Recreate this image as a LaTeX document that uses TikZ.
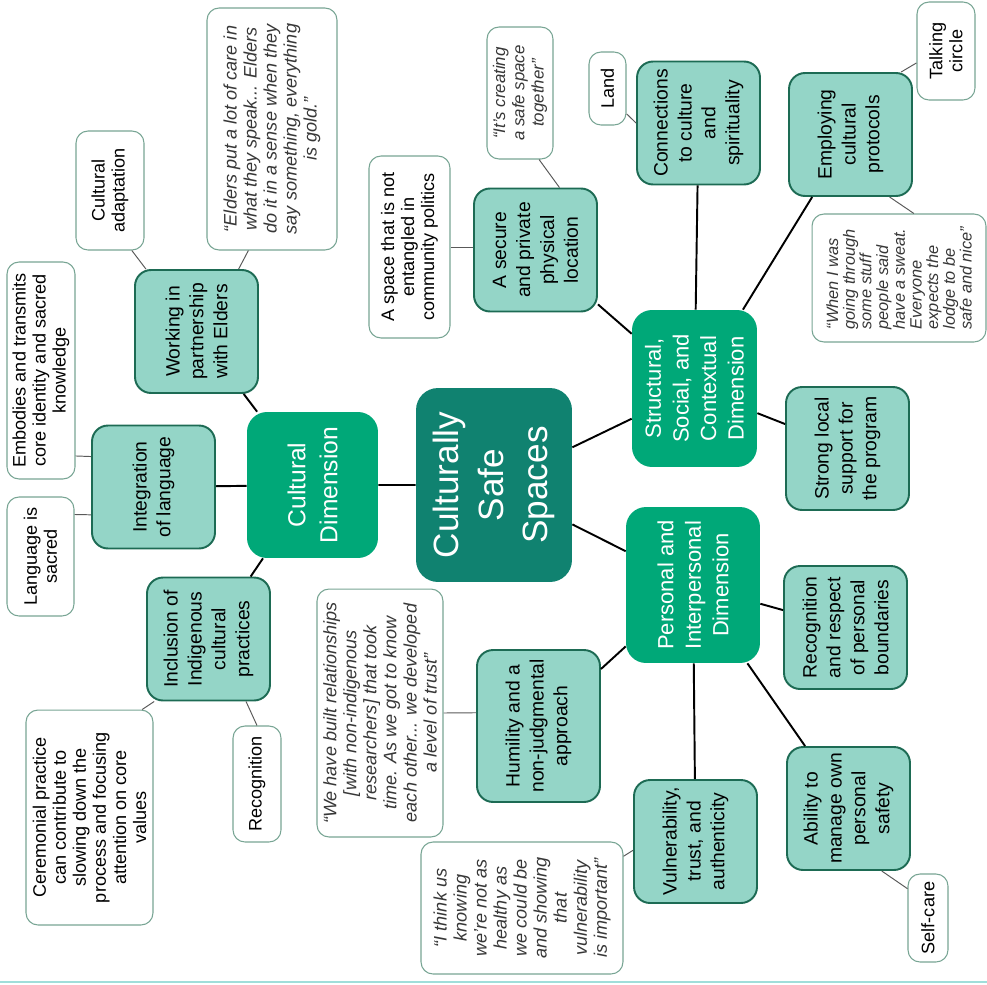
\documentclass[tikz,border=0pt]{standalone}
\usepackage{fontspec}
\setmainfont{Liberation Sans}
\definecolor{hubgreen}{RGB}{16,130,112}
\definecolor{dimgreen}{RGB}{0,168,120}
\definecolor{subfill}{RGB}{148,213,199}
\definecolor{subedge}{RGB}{29,107,84}
\definecolor{leafedge}{RGB}{120,165,148}
\definecolor{quotegray}{RGB}{55,55,55}
\definecolor{rulecyan}{RGB}{160,222,218}

\begin{document}
\begin{tikzpicture}[
    x=.02cm, y=-.02cm,
    every node/.style={rotate=90, align=center, inner sep=0pt},
    hubbox/.style={fill=hubgreen, text=white, rounded corners=.44cm,
        font=\fontsize{20}{25.5}\selectfont},
    dimbox/.style={fill=dimgreen, text=white, rounded corners=.4cm,
        font=\fontsize{12.5}{15.7}\selectfont},
    subbox/.style={fill=subfill, draw=subedge, line width=1.1pt,
        rounded corners=.32cm, font=\fontsize{11}{13.6}\selectfont,
        minimum width=2.46cm, minimum height=2.46cm},
    leafbox/.style={fill=white, draw=leafedge, line width=.6pt,
        rounded corners=.24cm, font=\fontsize{10.3}{11.4}\selectfont},
    quotebox/.style={leafbox, text=quotegray,
        font=\fontsize{10.3}{11.4}\selectfont\itshape},
    limb/.style={line width=1.1pt},
    twig/.style={line width=.55pt, black!65}]
    \useasboundingbox (0,0) rectangle (987,984);

    % Centre and the three dimensions.
    \node[hubbox, minimum width=3.88cm, minimum height=3.12cm] (hub)
        at (494,485) {Culturally\\Safe\\Spaces};
    \node[dimbox, font=\fontsize{14}{18.2}\selectfont,
        minimum width=2.92cm, minimum height=2.62cm] (cult)
        at (312.5,485) {Cultural\\Dimension};
    \node[dimbox, minimum width=3.14cm, minimum height=2.5cm] (struc)
        at (694.5,388.5) {Structural,\\Social, and\\Contextual\\Dimension};
    \node[dimbox, minimum width=3.12cm, minimum height=2.68cm] (pers)
        at (693,585) {Personal and\\Interpersonal\\Dimension};

    % Cultural branch.
    \node[subbox] (elders) at (196.5,331.5) {Working in\\partnership\\with Elders};
    \node[subbox] (lang) at (153.5,487) {Integration\\of language};
    \node[subbox] (incl) at (208.5,639) {Inclusion of\\Indigenous\\cultural\\practices};
    \node[leafbox, minimum width=2.38cm, minimum height=1.36cm] (adapt)
        at (110,190.5) {Cultural\\adaptation};
    \node[quotebox, minimum width=4.84cm, minimum height=2.6cm] (eldq)
        at (272,129) {“Elders put a lot of care in\\what they speak... Elders\\do it in a sense when they\\say something, everything\\is gold.”};
    \node[leafbox, minimum width=4.34cm, minimum height=1.36cm] (embod)
        at (41,370.5) {Embodies and transmits\\core identity and sacred\\knowledge};
    \node[leafbox, minimum width=2.38cm, minimum height=1.34cm] (sacred)
        at (40.5,556.5) {Language is\\sacred};
    \node[leafbox, minimum width=4.3cm, minimum height=2.54cm] (ceremo)
        at (89.5,817.5) {Ceremonial practice\\can contribute to\\slowing down the\\process and focusing\\attention on core\\values};
    \node[leafbox, minimum width=2.32cm, minimum height=.96cm] (recog)
        at (257,784) {Recognition};

    % Structural branch.
    \node[subbox] (secure) at (535.5,250) {A secure\\and private\\physical\\location};
    \node[subbox] (conn) at (698.5,123) {Connections\\to culture\\and\\spirituality};
    \node[subbox] (proto) at (850.5,134.5) {Employing\\cultural\\protocols};
    \node[subbox] (support) at (847.5,448.5) {Strong local\\support for\\the program};
    \node[leafbox, minimum width=3.64cm, minimum height=1.62cm] (politics)
        at (409.5,247) {A space that is not\\entangled in\\community politics};
    \node[quotebox, font=\fontsize{9.6}{11}\selectfont\itshape,
        minimum width=2.64cm, minimum height=1.32cm] (togq)
        at (520,93) {“It’s creating\\a safe space\\together”};
    \node[leafbox, minimum width=1.46cm, minimum height=.74cm] (land)
        at (607.5,88.5) {Land};
    \node[leafbox, minimum width=1.96cm, minimum height=1.16cm] (talk)
        at (946,51) {Talking\\circle};
    \node[quotebox, align=left, font=\fontsize{9.3}{9.5}\selectfont\itshape,
        minimum width=2.56cm, minimum height=3.48cm] (sweatq)
        at (899,278) {“When I was\\going through\\some stuff\\people said\\have a sweat.\\Everyone\\expects the\\lodge to be\\safe and nice”};

    % Personal branch.
    \node[subbox, minimum width=3.04cm] (humil) at (538.5,726) {Humility and a\\non-judgmental\\approach};
    \node[subbox] (bound) at (845.5,627.5) {Recognition\\and respect\\of personal\\boundaries};
    \node[subbox] (vuln) at (695.5,841.5) {Vulnerability,\\trust, and\\authenticity};
    \node[subbox] (safety) at (848.5,808.5) {Ability to\\manage own\\personal\\safety};
    \node[quotebox, minimum width=4.96cm, minimum height=2.52cm] (trustq)
        at (380,713) {“We have built relationships\\{[}with non-indigenous\\researchers{]} that took\\time. As we got to know\\each other... we developed\\a level of trust”};
    \node[quotebox, minimum width=2.64cm, minimum height=4.04cm] (vulnq)
        at (522,908) {“I think us\\knowing\\we’re not as\\healthy as\\we could be\\and showing\\that\\vulnerability\\is important”};
    \node[leafbox, minimum width=1.76cm, minimum height=.8cm] (selfcare)
        at (928,918) {Self-care};

    % Main branches.
    \draw[limb] (hub) -- (cult) (hub) -- (struc) (hub) -- (pers);
    \draw[limb] (cult) -- (elders) (cult) -- (lang) (cult) -- (incl);
    \draw[limb] (struc) -- (secure) (struc) -- (conn)
        (struc) -- (proto) (struc) -- (support);
    \draw[limb] (pers) -- (humil) (pers) -- (bound)
        (pers) -- (vuln) (pers) -- (safety);

    % Thin links to the notes.
    \draw[twig] (elders.39) -- (adapt.-160);
    \draw[twig] (elders.-34) -- (eldq.169);
    \draw[twig] (lang.64) -- (embod.-158);
    \draw[twig] (lang.114) -- (sacred.-39);
    \draw[twig] (incl.139) -- (ceremo.-26);
    \draw[twig] (incl.-149) -- (recog.east);
    \draw[twig] (politics.south) -- (politics.south -| secure.north);
    \draw[twig] (secure.-21) -- (togq.-164);
    \draw[twig] (conn.north) -- (land.-143);
    \draw[twig] (proto.-39) -- (talk.112);
    \draw[twig] (proto.-148) -- (sweatq.-13);
    \draw[twig] (safety.-152) -- (selfcare.35);
    \draw[twig] (vuln.98) -- (vulnq.-63);
    \draw[twig] (humil.78) -- (trustq.south);

    % Rule along the bottom.
    \draw[rulecyan, line width=.8pt] (0,982) -- (987,982);
\end{tikzpicture}
\end{document}
